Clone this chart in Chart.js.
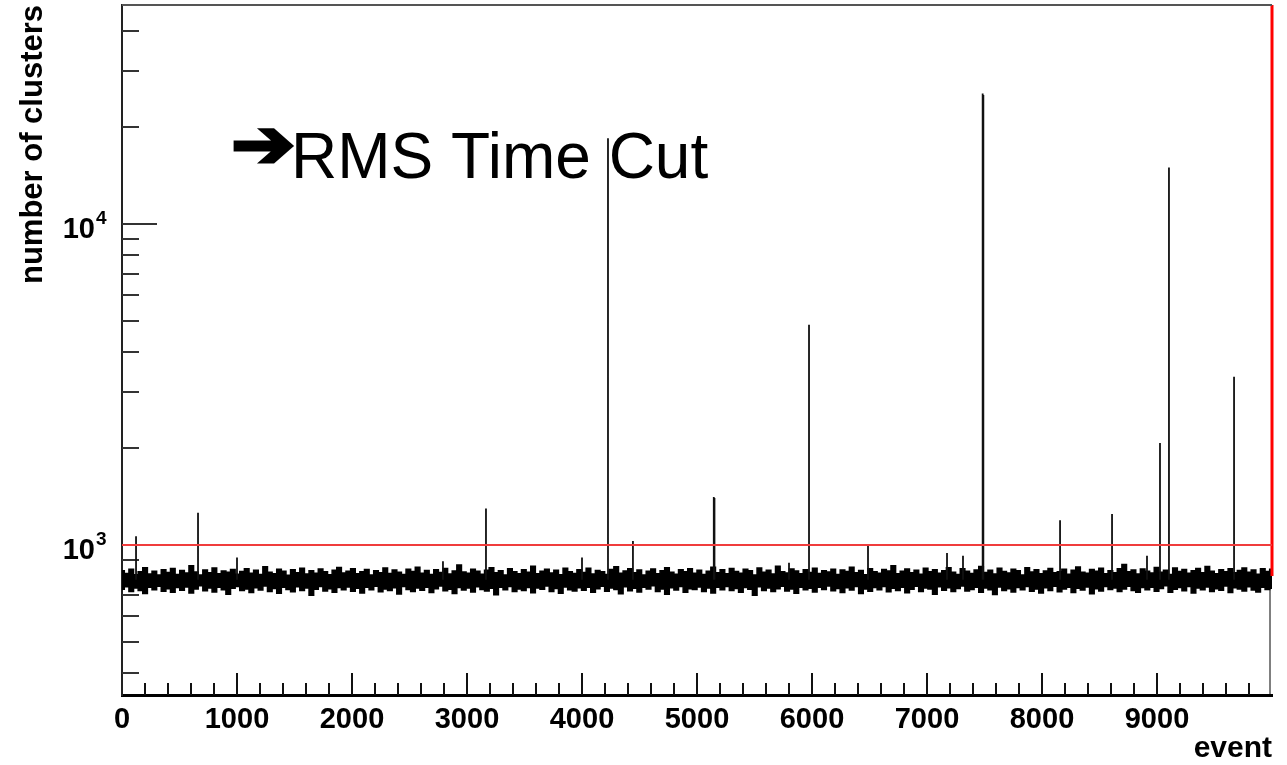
<!DOCTYPE html>
<html>
<head>
<meta charset="utf-8">
<script src="https://cdn.jsdelivr.net/npm/chart.js@4.4.1/dist/chart.umd.min.js"></script>
<style>
  html, body { margin: 0; padding: 0; background: #fff; }
</style>
</head>
<body>
<canvas id="clustersChart" width="1287" height="765"></canvas>
<script>
// ========== DATOS ==========

// eje x: numero de evento
const xMin = 0;
const xMax = 10000;
const xTickLabels = [0, 1000, 2000, 3000, 4000, 5000, 6000, 7000, 8000, 9000];

// eje y logaritmico
const yMin = 341;
const yMax = 48100;
const yDecades = [1000, 10000];
const yMinorTicks = [400, 500, 600, 700, 800, 900, 2000, 3000, 4000, 5000, 6000, 7000, 8000, 9000, 20000, 30000, 40000];

// corte RMS
const cutLevel = 1000;
const cutTop = 48100;
const cutBottom = 800;

// banda de ruido: maximo y minimo por bin (250 bins en 0..10000)
const bandHigh = [
  832, 815, 841, 808, 826, 850, 812, 829, 806, 838, 821, 845, 810, 833, 818, 862, 824, 807, 836, 819, 848, 813, 830, 822, 839,
  811, 827, 843, 816, 834, 809, 856, 823, 814, 840, 828, 805, 837, 820, 846, 812, 831, 817, 842, 825, 808, 835, 851, 818, 829,
  844, 813, 826, 839, 807, 832, 820, 848, 815, 836, 823, 810, 841, 827, 853, 816, 833, 809, 838, 821, 845, 812, 830, 866, 824,
  817, 840, 828, 811, 835, 849, 819, 831, 806, 843, 825, 814, 837, 822, 858, 813, 829, 841, 818, 834, 808, 846, 826, 815, 838,
  821, 847, 812, 833, 825, 810, 839, 855, 816, 830, 843, 819, 836, 807, 828, 842, 814, 831, 849, 822, 811, 837, 826, 844, 817,
  834, 809, 829, 852, 820, 838, 813, 845, 827, 816, 840, 831, 806, 848, 823, 835, 812, 859, 826, 818, 842, 830, 814, 837, 821,
  846, 815, 832, 824, 841, 810, 836, 827, 853, 819, 833, 808, 844, 825, 817, 839, 830, 862, 813, 828, 842, 820, 835, 811, 847,
  826, 838, 816, 831, 850, 822, 809, 843, 829, 815, 836, 857, 821, 834, 812, 846, 827, 818, 840, 832, 807, 849, 824, 837, 814,
  830, 845, 819, 826, 841, 811, 835, 854, 823, 816, 839, 828, 847, 813, 832, 820, 844, 870, 825, 836, 812, 842, 829, 818, 851,
  823, 834, 810, 848, 827, 839, 816, 831, 845, 820, 857, 829, 814, 838, 826, 843, 819, 833, 848, 822, 836, 811, 844, 827, 840
];
const bandLow = [
  728, 741, 716, 735, 722, 706, 739, 725, 744, 718, 731, 712, 737, 723, 740, 709, 729, 746, 720, 734, 714, 738, 726, 703, 733,
  742, 721, 730, 711, 736, 724, 745, 717, 732, 708, 739, 727, 715, 741, 722, 734, 697, 728, 743, 719, 731, 713, 737, 725, 740,
  718, 733, 709, 738, 726, 744, 715, 730, 721, 736, 704, 742, 727, 716, 734, 723, 739, 711, 731, 745, 720, 728, 706, 737, 724,
  735, 714, 741, 727, 719, 733, 700, 738, 725, 743, 716, 730, 722, 737, 710, 734, 728, 745, 717, 732, 708, 740, 726, 719, 736,
  723, 739, 712, 731, 744, 718, 735, 727, 705, 741, 720, 733, 714, 738, 729, 746, 716, 730, 702, 736, 724, 742, 713, 731, 727,
  740, 717, 734, 709, 738, 726, 743, 721, 732, 713, 737, 728, 698, 741, 722, 735, 716, 731, 744, 719, 729, 707, 738, 725, 733,
  714, 739, 727, 745, 720, 732, 711, 736, 724, 742, 706, 730, 718, 737, 726, 743, 715, 733, 721, 739, 710, 728, 744, 717, 735,
  729, 703, 741, 723, 736, 716, 732, 745, 719, 727, 738, 712, 734, 725, 701, 740, 721, 731, 714, 737, 726, 743, 718, 730, 709,
  736, 722, 744, 715, 729, 738, 711, 733, 724, 740, 705, 731, 719, 742, 727, 735, 716, 730, 744, 721, 712, 737, 725, 739, 718,
  732, 746, 713, 728, 737, 720, 743, 709, 734, 726, 740, 717, 731, 723, 745, 711, 736, 729, 719, 741, 724, 714, 738, 727, 733
];

// picos aislados
const spikeEvents  = [122, 661, 1000, 2791, 3165, 4000, 4226, 4443, 5146, 5152, 5800, 5974, 6487, 7174, 7313, 7484, 7490, 8157, 8609, 8913, 9026, 9104, 9670];
const spikeHeights = [1065, 1260, 915, 890, 1300, 915, 18500, 1030, 1410, 1400, 880, 4850, 1000, 945, 925, 25500, 25200, 1195, 1250, 925, 2080, 15000, 3340];
const spikeBase = 780;

const annotationText = 'RMS Time Cut';

// ========== CONSTRUCCION ==========

const fontFamily = '"Liberation Sans", Arial, Helvetica, sans-serif';

const binStep = (xMax - xMin) / (bandHigh.length - 1);
const highPoints = bandHigh.map((v, i) => ({ x: xMin + i * binStep, y: v }));
const lowPoints = bandLow.map((v, i) => ({ x: xMin + i * binStep, y: v }));

const spikePoints = [];
spikeEvents.forEach((e, i) => {
    spikePoints.push({ x: e, y: spikeBase });
    spikePoints.push({ x: e, y: spikeHeights[i] });
    spikePoints.push({ x: e, y: null });
});

// ticks hacia dentro, marco y etiquetas al estilo ROOT
const rootStyle = {
    id: 'rootStyle',
    beforeDatasetsDraw(chart) {
        const { ctx, chartArea: a, scales: { x, y } } = chart;
        ctx.save();
        ctx.strokeStyle = '#111';
        ctx.lineWidth = 2;
        for (let v = xMin + 200; v < xMax; v += 200) {
            const px = Math.round(x.getPixelForValue(v));
            const len = v % 1000 === 0 ? 22 : 12;
            ctx.beginPath();
            ctx.moveTo(px, a.bottom);
            ctx.lineTo(px, a.bottom - len);
            ctx.stroke();
        }
        ctx.strokeStyle = '#333';
        yMinorTicks.forEach(v => {
            const py = Math.round(y.getPixelForValue(v));
            ctx.beginPath();
            ctx.moveTo(a.left, py);
            ctx.lineTo(a.left + 17, py);
            ctx.stroke();
        });
        yDecades.forEach(v => {
            const py = Math.round(y.getPixelForValue(v));
            ctx.beginPath();
            ctx.moveTo(a.left, py);
            ctx.lineTo(a.left + 35, py);
            ctx.stroke();
        });
        ctx.restore();
    },
    afterDatasetsDraw(chart) {
        const { ctx, chartArea: a, scales: { y } } = chart;
        ctx.save();
        // marco superior y derecho
        ctx.strokeStyle = '#555';
        ctx.lineWidth = 2;
        ctx.beginPath();
        ctx.moveTo(a.left, a.top);
        ctx.lineTo(a.right, a.top);
        ctx.stroke();
        ctx.strokeStyle = '#000';
        ctx.lineWidth = 1;
        ctx.beginPath();
        ctx.moveTo(a.right - 2, y.getPixelForValue(cutBottom));
        ctx.lineTo(a.right - 2, a.bottom);
        ctx.stroke();

        // etiquetas 10^n
        ctx.fillStyle = '#000';
        ctx.textBaseline = 'alphabetic';
        yDecades.forEach(v => {
            const py = y.getPixelForValue(v);
            ctx.font = 'bold 29px ' + fontFamily;
            ctx.textAlign = 'right';
            ctx.fillText('10', 95, py + 14);
            ctx.font = 'bold 19px ' + fontFamily;
            ctx.textAlign = 'left';
            ctx.fillText(String(Math.round(Math.log10(v))), 96, py);
        });

        // anotacion: flecha gruesa + texto
        ctx.textAlign = 'left';
        ctx.font = 'bold 64px "DejaVu Sans", sans-serif';
        ctx.strokeStyle = '#000';
        ctx.lineWidth = 3;
        ctx.save();
        ctx.translate(231, 167);
        ctx.scale(1.2, 1.05);
        ctx.fillText('\u2794', 0, 0);
        ctx.strokeText('\u2794', 0, 0);
        ctx.restore();
        ctx.font = '64px ' + fontFamily;
        ctx.fillText(annotationText, 291, 178);
        ctx.restore();
    }
};

const ctx = document.getElementById('clustersChart').getContext('2d');

const clustersChart = new Chart(ctx, {
    type: 'line',
    data: {
        datasets: [{
            label: 'corte',
            data: [{ x: xMin, y: cutLevel }, { x: xMax, y: cutLevel }],
            borderColor: '#f03c3c',
            borderWidth: 2,
            pointRadius: 0,
            fill: false
        }, {
            label: 'corte vertical',
            data: [{ x: xMax, y: cutTop }, { x: xMax, y: cutBottom }],
            borderColor: '#ff0000',
            borderWidth: 3,
            pointRadius: 0,
            clip: 4,
            fill: false
        }, {
            label: 'picos',
            data: spikePoints,
            borderColor: '#111',
            borderWidth: 1.8,
            pointRadius: 0,
            spanGaps: false,
            fill: false
        }, {
            label: 'banda alta',
            data: highPoints,
            borderColor: '#000',
            backgroundColor: '#000',
            borderWidth: 1.5,
            pointRadius: 0,
            stepped: 'middle',
            fill: '+1'
        }, {
            label: 'banda baja',
            data: lowPoints,
            borderColor: '#000',
            borderWidth: 1.5,
            pointRadius: 0,
            stepped: 'middle',
            fill: false
        }]
    },
    options: {
        responsive: false,
        animation: false,
        devicePixelRatio: 1,
        layout: {
            padding: { top: 5, right: 15, left: 0, bottom: 0 }
        },
        plugins: {
            legend: { display: false },
            tooltip: { enabled: false }
        },
        scales: {
            x: {
                type: 'linear',
                min: xMin,
                max: xMax,
                afterBuildTicks: scale => {
                    scale.ticks = xTickLabels.map(v => ({ value: v }));
                },
                afterFit: scale => {
                    scale.height = 70;
                },
                ticks: {
                    autoSkip: false,
                    maxRotation: 0,
                    padding: 0,
                    color: '#000',
                    font: { family: fontFamily, size: 29, weight: 'bold' },
                    callback: value => String(value)
                },
                grid: { display: false },
                border: { display: true, color: '#000', width: 3 },
                title: {
                    display: true,
                    text: 'event',
                    align: 'end',
                    color: '#000',
                    font: { family: fontFamily, size: 30, weight: 'bold', lineHeight: 1 },
                    padding: { top: 0, bottom: 1 }
                }
            },
            y: {
                type: 'logarithmic',
                min: yMin,
                max: yMax,
                afterFit: scale => {
                    scale.width = 122;
                },
                ticks: { display: false },
                grid: { display: false },
                border: { display: true, color: '#222', width: 2 },
                title: {
                    display: true,
                    text: 'number of clusters',
                    align: 'end',
                    color: '#000',
                    font: { family: fontFamily, size: 31, weight: 'bold' },
                    padding: { top: 15, bottom: 0 }
                }
            }
        }
    },
    plugins: [rootStyle]
});
</script>
</body>
</html>
